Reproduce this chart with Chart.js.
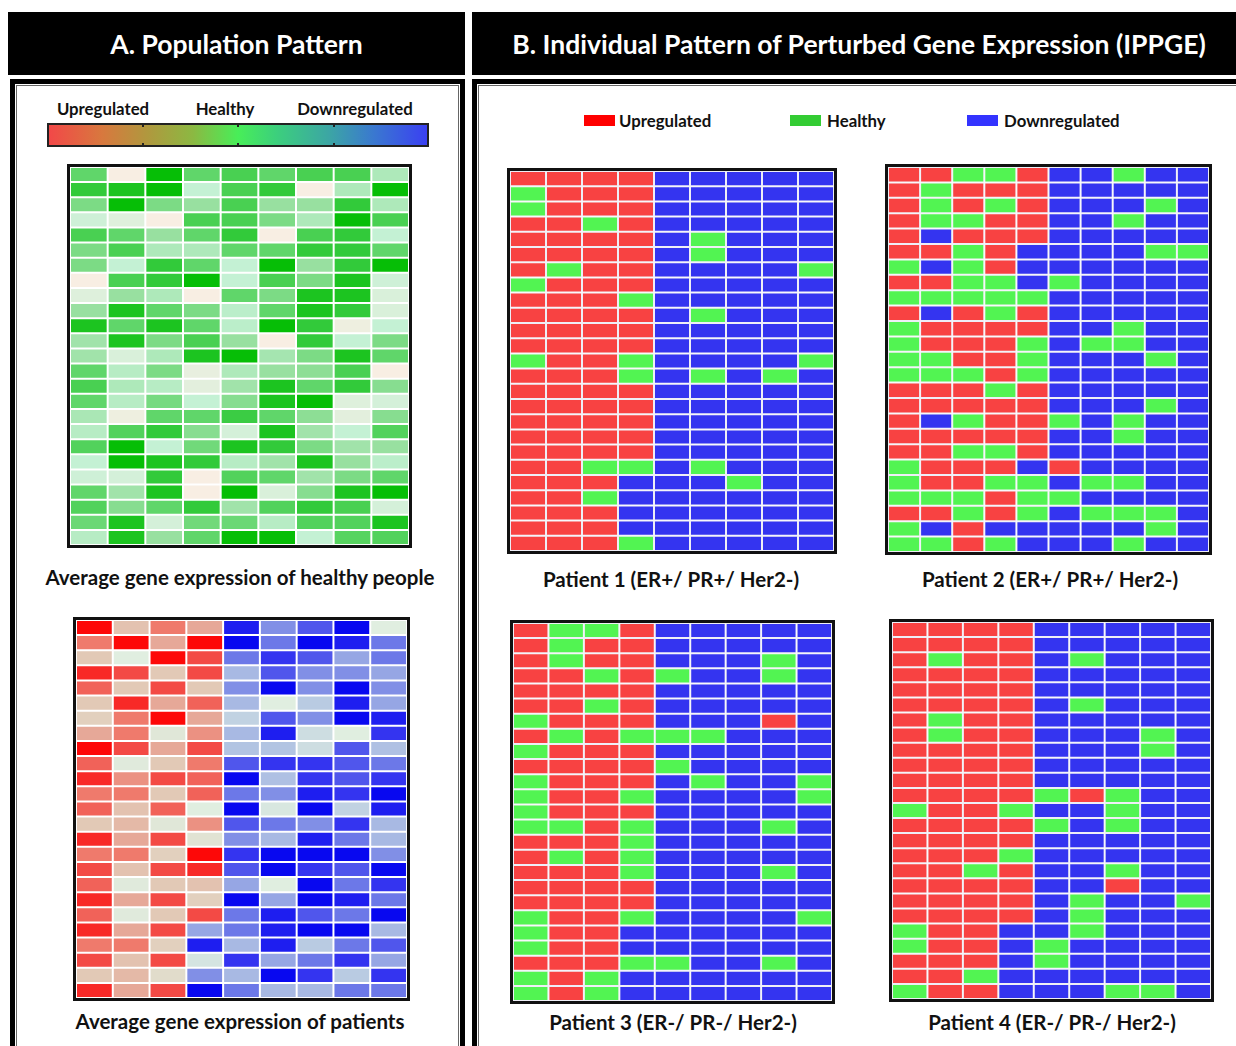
<!DOCTYPE html>
<html><head><meta charset="utf-8">
<script src="https://cdn.jsdelivr.net/npm/chart.js@4.4.1/dist/chart.umd.min.js"></script>
<style>
body{margin:0;width:1236px;height:1046px;position:relative;overflow:hidden;background:#fff;font-family:Lato,'Open Sans',sans-serif;font-weight:700;color:#111}
.hdr{position:absolute;background:#000;color:#fff;display:flex;align-items:center;justify-content:center;font-size:26.5px;white-space:nowrap;box-sizing:border-box}
.panel{position:absolute;border:5px solid #000;box-sizing:border-box;box-shadow:inset 0 0 0 1px #fff,inset 0 0 0 2px #666}
.hm{position:absolute;border:3px solid #111;box-sizing:border-box;background:#fff}
.hm canvas{display:block}
.cap{position:absolute;width:460px;text-align:center;font-size:20.5px;line-height:24px;white-space:nowrap}
.lbl{position:absolute;width:160px;text-align:center;font-size:16.8px;line-height:20px;white-space:nowrap}
.lg{position:absolute;font-size:16.8px;line-height:20px;white-space:nowrap}
.sw{position:absolute;width:31px;height:11px}
</style></head><body>
<script>
// ---------- DATA ----------
const columns9 = ['G1','G2','G3','G4','G5','G6','G7','G8','G9'];
const columns10 = ['G1','G2','G3','G4','G5','G6','G7','G8','G9','G10'];
// average expression of healthy people: 0 = pale, 5 = strong green
const healthyValues = [
 [3,0,5,3,3.5,3,3.5,3.5,1.5],
 [4,4.5,5,1,3.5,4,0,1.5,5],
 [2.5,5,2.5,2,3.5,2,2,4,1.5],
 [0.8,0.5,0,3.5,3.5,2.5,1.5,5,3.5],
 [3.5,3,2,3,4,0,3.5,4,1],
 [2.5,3.5,1.5,1.5,3,3,4,4,3],
 [2.5,1,4,3,1,5,2,4,5],
 [0,3.5,4,5,1,3.5,2.5,4.5,0.8],
 [0.5,2,1.5,0,3,2.5,4.5,4.5,0.6],
 [2,4.5,3,2.5,1.2,3,4.5,4,0.6],
 [4.5,3,4.5,3,1.2,5,4,0.2,1],
 [1.8,4.5,2.5,3.5,2,0,4,1,2.5],
 [1.8,0.6,1.5,4.5,5,1.7,2.5,4.5,3],
 [3,1.3,2.5,0.3,1.5,2,2.2,3.5,0],
 [3.5,1.5,1.3,0.4,1.8,4.5,3,4,2.3],
 [3,1.3,2.6,1,2.3,4.5,5,0.5,0.7],
 [1.6,0.2,3,3,3.8,3,2.2,0.4,2.3],
 [1.3,3.3,4,2.3,0.7,4.5,1.8,1,3.3],
 [3.3,5,1,2.7,4.5,4,2.5,1.8,2],
 [1,5,4.5,4,1.3,1.8,4.5,2,1.2],
 [0.8,0.7,4,0,3.3,3,1.8,2.5,3],
 [3,1.8,4.5,0,5,0.6,2.3,4.5,5],
 [3.3,2.3,3,4,1.8,3.3,4,3.5,0.7],
 [2.8,4.5,0.7,2.7,2.8,1.3,3.3,3.3,4.5],
 [1.3,4.5,2,3,5,5,1,3.2,3.3]
];
// average expression of patients: +5 = strongly up (red), -5 = strongly down (blue)
const patientValues = [
 [5,1.2,3,2,-4.5,-2.5,-3.5,-5,0],
 [3,5,2,5,-5,-3,-5,-4.5,-3],
 [1,0,5,4,-3,-4,-3.5,-2,-3],
 [4.5,4,1,4,-1.5,-3.5,-2.5,-2.5,-2],
 [3.5,1,4,1,-2.5,-5,-2.5,-5,-2.5],
 [1,4.5,2,3.5,-1.5,0,-1,-4.5,-2],
 [0.8,3,5,2,-0.8,-3.5,-2.5,-5,-4.5],
 [2,3,0.2,2.5,-1.5,-4.5,-0.5,0,-4],
 [5,4,2,4,-1.2,-1.2,-0.5,-3.5,-1.3],
 [3.5,0.1,1,3,-3.5,-4,-4,-3.5,-3],
 [4.5,2.5,4,3.5,-5,-1.3,-4,-3.5,-4],
 [3,3,1,3.5,-3,-2.5,-4.5,-4,-5],
 [3.5,1.2,3.5,0,-5,-0.2,-5,-0.8,-4.5],
 [1,1.5,0.2,2.5,-3.5,-3,-2.5,-4,-1.5],
 [4.5,2,4,0.3,-2.5,-1.5,-4.5,-3,-1.5],
 [3,3,0.8,5,-4,-5,-5,-5,-2.5],
 [4,1.2,4,4.5,-3.5,-5,-4,-3.5,-5],
 [3.5,0.1,1,1.2,-2,0,-5,-3,-4],
 [4.5,2,4,0.8,-5,-2,-5,-4.5,-3],
 [3.5,0.1,1,4,-3,-4.5,-3.5,-3,-5],
 [4.5,2,4,-2,-3,-4.5,-5,-5,-1.5],
 [3,3,0.8,-4.5,-1.5,-4.5,-1,-3,-3.5],
 [4,1.2,4,-0.3,-4,-2,-3,-4,-2],
 [1,1.5,0.5,-2.5,-1.5,-5,-4,-1,-4],
 [4.5,2,4,-5,-3,-1.5,-1.5,-3,-3]
];
// individual patterns: U = upregulated, H = healthy, D = downregulated
const patient1 = ['UUUUDDDDD','HUUUDDDDD','HUUUDDDDD','UUHUDDDDD','UUUUDHDDD','UUUUDHDDD','UHUUDDDDH','HUUUDDDDD','UUUHDDDDD','UUUUDHDDD','UUUUDDDDD','UUUUDDDDD','HUUHDDDDH','UUUHDHDHD','UUUUDDDDD','UUUUDDDDD','UUUUDDDDD','UUUUDDDDD','UUUUDDDDD','UUHHDHDDD','UUUDDDHDD','UUHDDDDDD','UUUDDDDDD','UUUDDDDDD','UUUHDDDDD'];
const patient2 = ['UUHHUDDHDD','UHUUUDDDDD','UHUHUDDDHD','UHHUUDDHDD','UDUUUDDDDD','UUHUDDDDHH','HDHUDDDDDD','UUHHDHDDDD','HHHHHDDDDD','UDUHUDDDDD','HUUUUDDHDD','HUUUHDHHDD','HHUUHDDDHD','HHHUHDDDDD','UUUHUDDDDD','UUUUUDDDHD','UDHUUHDHDD','UUUUUDDHDD','UUHHUDDDDD','HUUUDUDDDD','HUUHHDHHDD','HHHUHHDDDD','UUHUHDHHHD','HDUDDDDDHD','HHUHDDDHDD'];
const patient3 = ['UHHUDDDDD','UHUUDDDDD','UHUUDDDHD','UUHUHDDHD','UUUUDDDDD','UUHUDDDDD','HUUUDDDUD','UHUHHHDDD','HUUUDDDDD','UUUUHDDDD','HUUUDHDDH','HUUHDDDDH','HUUUDDDDD','HHUHDDDHD','UUUHDDDDD','UHUHDDDDD','UUUHDDDHD','UUUUDDDDD','UUUUDDDDD','HUUHDDDDH','HUUDDDDDD','HUUDDDDDD','UUUHHDDHD','HUHDDDDDD','HUHDDDDDD'];
const patient4 = ['UUUUDDDDD','UUUUDDDDD','UHUUDHDDD','UUUUDDDDD','UUUUDDDDD','UUUUDHDDD','UHUUDDDDD','UHUUDDDHD','UUUUDDDHD','UUUUDDDDD','UUUUDDDDD','UUUUHUHDD','HUUHDDHDD','UUUUHDHDD','UUUUDDDDD','UUUHDDDDD','UUHUDDHDD','UUUUDDUDD','UUUUDHDDH','UUUUDHDDD','HUUDDHDDD','HUUDHDDDD','UUUDHDDDD','UUHDDDDDD','HUUDDDHHD'];
const stateNames = ['Upregulated','Healthy','Downregulated'];
const colorbarLabels = ['Upregulated','Healthy','Downregulated'];
const titleA = 'A. Population Pattern';
const titleB = 'B. Individual Pattern of Perturbed Gene Expression (IPPGE)';
const captions = ['Average gene expression of healthy people','Average gene expression of patients','Patient 1 (ER+/ PR+/ Her2-)','Patient 2 (ER+/ PR+/ Her2-)','Patient 3 (ER-/ PR-/ Her2-)','Patient 4 (ER-/ PR-/ Her2-)'];

// ---------- STYLE ----------
const stateColor = {U:'#f84242', H:'#52f452', D:'#3434f0'};
const legendColor = {U:'#ff0000', H:'#33cc33', D:'#3333ff'};
const greenStops = [[0,[248,238,227]],[1,[196,241,212]],[2,[152,224,160]],[3,[96,214,106]],[4,[50,202,58]],[5,[6,190,6]]];
const divStops = [[-5,[8,8,240]],[-4,[52,52,240]],[-3,[108,120,232]],[-2,[150,166,228]],[-1,[185,203,226]],[0,[224,238,224]],[1,[226,201,182]],[2,[230,168,152]],[3,[239,122,108]],[4,[243,74,69]],[5,[253,8,8]]];
function interp(stops, v){
  if(v<=stops[0][0]) return 'rgb('+stops[0][1].join(',')+')';
  for(let i=1;i<stops.length;i++){
    if(v<=stops[i][0]){
      const a=stops[i-1], b=stops[i], t=(v-a[0])/(b[0]-a[0]);
      return 'rgb('+a[1].map((c,k)=>Math.round(c+(b[1][k]-c)*t)).join(',')+')';
    }
  }
  return 'rgb('+stops[stops.length-1][1].join(',')+')';
}

function el(tag, cls, style, text){
  const e=document.createElement(tag); if(cls) e.className=cls;
  Object.assign(e.style, style||{}); if(text!==undefined) e.textContent=text;
  document.body.appendChild(e); return e;
}

// headers & panels
el('div','hdr',{left:'8px',top:'12px',width:'457px',height:'63px'},titleA);
el('div','hdr',{left:'472px',top:'12px',width:'764px',height:'63px',paddingLeft:'10px'},titleB);
el('div','panel',{left:'10px',top:'79px',width:'455px',height:'1000px'});
el('div','panel',{left:'472px',top:'79px',width:'800px',height:'1000px'});

// colorbar
el('div','',{position:'absolute',left:'47px',top:'123px',width:'382px',height:'24px',boxSizing:'border-box',border:'2px solid #222',
  background:'linear-gradient(to right,#f24848 0%,#d8783e 14%,#b0983e 26%,#8cb842 38%,#48ee58 50%,#3cd07c 60%,#3ca6a4 74%,#3a78d0 86%,#3a40f2 100%)'});
[0.25,0.5,0.75].forEach(f=>{
  el('div','',{position:'absolute',left:(47+382*f-1)+'px',top:'123px',width:'2px',height:'4px',background:'#222'});
  el('div','',{position:'absolute',left:(47+382*f-1)+'px',top:'143px',width:'2px',height:'4px',background:'#222'});
});
[103,225,355].forEach((cx,i)=>el('div','lbl',{left:(cx-80)+'px',top:'99px'},colorbarLabels[i]));

// legend B
[['U',584,619],['H',790,827],['D',967,1004]].forEach(([k,sx,tx],i)=>{
  el('div','sw',{left:sx+'px',top:'115px',background:legendColor[k]});
  el('div','lg',{left:tx+'px',top:'111px'},stateNames[i]);
});

// heatmaps drawn by Chart.js (stacked bars: one dataset per gene row, one bar per column)
function heatmap(box, rows, labels, colorOf, lineColor){
  const d = el('div','hm',{left:box[0]+'px',top:box[1]+'px',width:(box[2]-box[0])+'px',height:(box[3]-box[1])+'px'});
  const c = document.createElement('canvas');
  const w = box[2]-box[0]-6, h = box[3]-box[1]-6;
  c.width=w; c.height=h; c.style.width=w+'px'; c.style.height=h+'px';
  d.appendChild(c);
  const datasets = rows.map(row=>{
    const cells = Array.from(row);
    return {
      data: cells.map(()=>1),
      backgroundColor: cells.map(colorOf),
      borderColor: lineColor, borderWidth: 1, borderSkipped: false, inflateAmount: 0,
      barPercentage: 1, categoryPercentage: 1
    };
  });
  new Chart(c,{type:'bar',data:{labels,datasets},options:{
    responsive:false, animation:false, maintainAspectRatio:false,
    layout:{padding:0},
    plugins:{legend:{display:false},tooltip:{enabled:false},title:{display:false}},
    scales:{
      x:{display:false,stacked:true,grid:{display:false}},
      y:{display:false,stacked:true,min:0,max:rows.length,reverse:true,grid:{display:false}}
    }
  }});
}

heatmap([67,164,412,548], healthyValues, columns9, v=>interp(greenStops,v), '#ffffff');
heatmap([73,617,410,1001], patientValues, columns9, v=>interp(divStops,v), '#ffffff');
heatmap([507,168,837,554], patient1, columns9, k=>stateColor[k], '#eeeef6');
heatmap([885,164,1212,555], patient2, columns10, k=>stateColor[k], '#eeeef6');
heatmap([510,620,835,1004], patient3, columns9, k=>stateColor[k], '#eeeef6');
heatmap([889,619,1214,1002], patient4, columns9, k=>stateColor[k], '#eeeef6');

// captions
[[240,577],[240,1021],[671,579],[1050,579],[673,1022],[1052,1022]].forEach(([cx,cy],i)=>{
  el('div','cap',{left:(cx-230)+'px',top:(cy-12)+'px'},captions[i]);
});
</script>
</body></html>
